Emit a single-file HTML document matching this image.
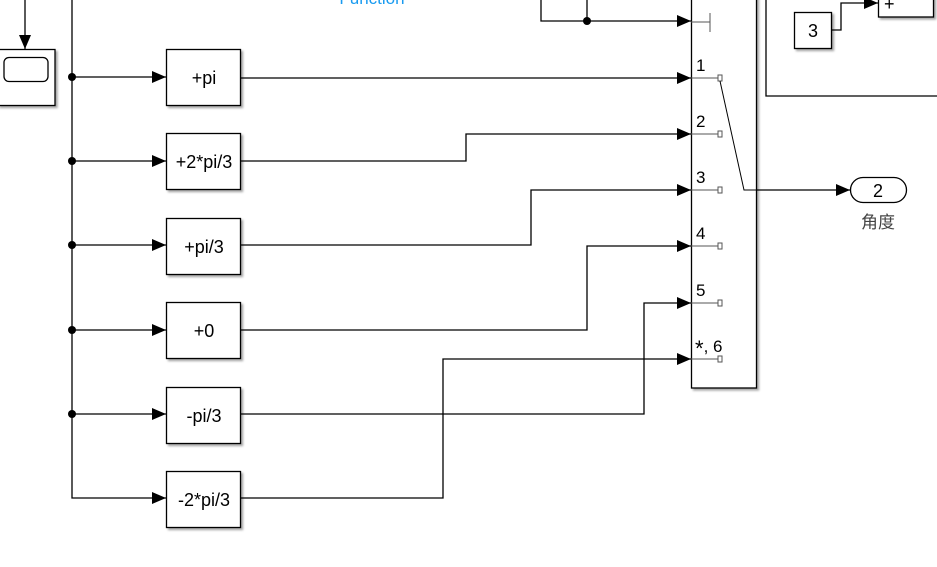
<!DOCTYPE html>
<html><head><meta charset="utf-8"><style>
html,body{margin:0;padding:0;background:#fff;}
svg{display:block;}
text{font-family:"Liberation Sans","Noto Sans CJK SC",sans-serif;}
</style></head><body>
<svg width="937" height="567" viewBox="0 0 937 567" xmlns="http://www.w3.org/2000/svg">
<defs>
<marker id="a" markerWidth="14" markerHeight="12" refX="14" refY="6" orient="auto" markerUnits="userSpaceOnUse">
<path d="M0,0 L14,6 L0,12 z" fill="#000"/></marker>
<filter id="sh" x="-10%" y="-10%" width="130%" height="130%"><feDropShadow dx="2" dy="2" stdDeviation="1" flood-color="#000" flood-opacity="0.35"/></filter>
</defs>
<text x="372" y="4" font-size="17" fill="#1a9bf0" text-anchor="middle">Function</text>
<line x1="25" y1="0" x2="25" y2="49" stroke="#000" stroke-width="1.3" marker-end="url(#a)"/>
<rect x="-2" y="49.5" width="57" height="56" fill="#fff" stroke="#000" stroke-width="1.3" filter="url(#sh)"/>
<rect x="4" y="57.5" width="44" height="24" rx="5" fill="#fff" stroke="#000" stroke-width="1.3"/>
<polyline points="72,0 72,498 166,498" fill="none" stroke="#000" stroke-width="1.3" marker-end="url(#a)"/>
<g fill="#000">
<circle cx="72" cy="77" r="4"/><circle cx="72" cy="161" r="4"/><circle cx="72" cy="245" r="4"/><circle cx="72" cy="330" r="4"/><circle cx="72" cy="414" r="4"/>
<circle cx="587" cy="21" r="4"/>
</g>
<g stroke="#000" fill="none" stroke-width="1.3">
<line x1="72" y1="77" x2="166" y2="77" marker-end="url(#a)"/>
<line x1="72" y1="161" x2="166" y2="161" marker-end="url(#a)"/>
<line x1="72" y1="245" x2="166" y2="245" marker-end="url(#a)"/>
<line x1="72" y1="330" x2="166" y2="330" marker-end="url(#a)"/>
<line x1="72" y1="414" x2="166" y2="414" marker-end="url(#a)"/>
<polyline points="241,78 691,78" marker-end="url(#a)"/>
<polyline points="241,161 466,161 466,134 691,134" marker-end="url(#a)"/>
<polyline points="241,245 531,245 531,190 691,190" marker-end="url(#a)"/>
<polyline points="241,330 587,330 587,246 691,246" marker-end="url(#a)"/>
<polyline points="241,414 644,414 644,303 691,303" marker-end="url(#a)"/>
<polyline points="241,498 443,498 443,359 691,359" marker-end="url(#a)"/>
<polyline points="541,0 541,21 691,21" marker-end="url(#a)"/>
<line x1="587" y1="0" x2="587" y2="21"/>
</g>
<g fill="#fff" stroke="#000" stroke-width="1.3" filter="url(#sh)">
<rect x="166.5" y="49.5" width="74" height="56"/>
<rect x="166.5" y="133.5" width="74" height="56"/>
<rect x="166.5" y="218.5" width="74" height="56"/>
<rect x="166.5" y="302.5" width="74" height="56"/>
<rect x="166.5" y="387.5" width="74" height="56"/>
<rect x="166.5" y="471.5" width="74" height="56"/>
<rect x="691.5" y="-5" width="65" height="393"/>
<rect x="794.5" y="12.5" width="37" height="36"/>
<rect x="878.5" y="-10" width="55" height="27"/>
</g>
<g font-size="18" text-anchor="middle" fill="#000">
<text x="204" y="84">+pi</text>
<text x="204" y="168">+2*pi/3</text>
<text x="204" y="253">+pi/3</text>
<text x="204" y="337">+0</text>
<text x="204" y="422">-pi/3</text>
<text x="204" y="506">-2*pi/3</text>
<text x="813" y="37">3</text>
<text x="884" y="10" text-anchor="start">+</text>
</g>
<g stroke="#555" fill="#fff">
<line x1="691" y1="22" x2="710" y2="22"/><line x1="710" y1="13" x2="710" y2="32"/>
<line x1="691" y1="78" x2="718" y2="78"/><rect x="718" y="75" width="4" height="6"/>
<line x1="691" y1="134" x2="718" y2="134"/><rect x="718" y="131" width="4" height="6"/>
<line x1="691" y1="190" x2="718" y2="190"/><rect x="718" y="187" width="4" height="6"/>
<line x1="691" y1="246" x2="718" y2="246"/><rect x="718" y="243" width="4" height="6"/>
<line x1="691" y1="303" x2="718" y2="303"/><rect x="718" y="300" width="4" height="6"/>
<line x1="691" y1="359" x2="718" y2="359"/><rect x="718" y="356" width="4" height="6"/>
</g>
<g font-size="17" fill="#000">
<text x="696" y="71">1</text><text x="696" y="127">2</text><text x="696" y="183">3</text>
<text x="696" y="239">4</text><text x="696" y="296">5</text><text x="695" y="352"><tspan font-size="22" dy="4">*</tspan><tspan dy="-4">, 6</tspan></text>
</g>
<polyline points="720,81 744,190 756,190" fill="none" stroke="#000"/>
<line x1="756" y1="190" x2="850" y2="190" stroke="#000" stroke-width="1.3" marker-end="url(#a)"/>
<rect x="850.5" y="177.5" width="56" height="25" rx="12.5" fill="#fff" stroke="#000" stroke-width="1.3"/>
<text x="878" y="197" font-size="18" text-anchor="middle">2</text>
<text x="878" y="228" font-size="17" text-anchor="middle" fill="#444">角度</text>
<polyline points="766,0 766,96 937,96" fill="none" stroke="#000" stroke-width="1.3"/>
<polyline points="832,30 841,30 841,3 878,3" fill="none" stroke="#000" stroke-width="1.3" marker-end="url(#a)"/>
</svg>
</body></html>
